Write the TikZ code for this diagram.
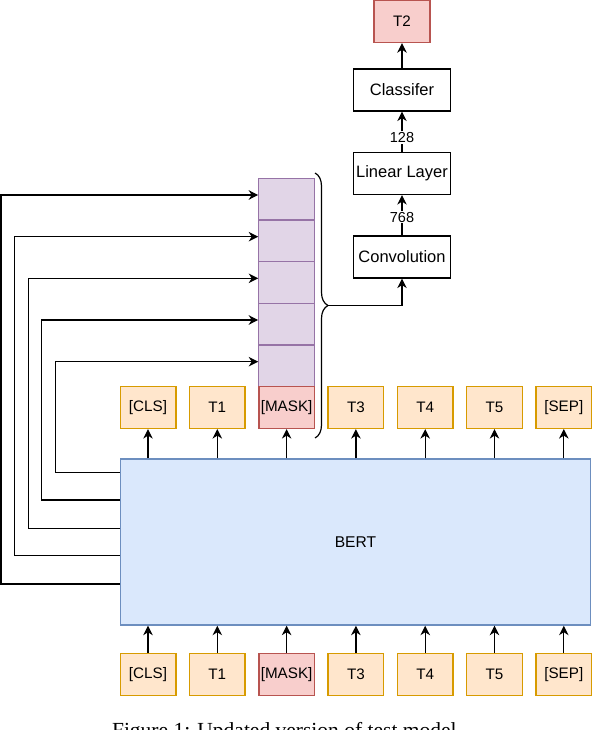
\documentclass[tikz,border=0pt]{standalone}
\usepackage{fontspec}
\setmainfont{Liberation Sans}
\newfontfamily\capfont{Liberation Serif}
\usetikzlibrary{arrows.meta,decorations.pathreplacing}
\definecolor{tokfill}{HTML}{FFE6CC}
\definecolor{tokdraw}{HTML}{D79B00}
\definecolor{maskfill}{HTML}{F8CECC}
\definecolor{maskdraw}{HTML}{B85450}
\definecolor{purfill}{HTML}{E1D5E7}
\definecolor{purdraw}{HTML}{9673A6}
\definecolor{bertfill}{HTML}{DAE8FC}
\definecolor{bertdraw}{HTML}{6C8EBF}
\begin{document}
\begin{tikzpicture}[x=1pt,y=-1pt,
  conn/.style={line width=1.2pt,-{Stealth[length=9.5pt,width=9.5pt,inset=3pt]}},
  box/.style={draw,line width=1.2pt,minimum width=96.5pt,minimum height=42pt,inner sep=0pt,font=\fontsize{16.5}{18}\selectfont},
  tok/.style={draw=tokdraw,fill=tokfill,line width=1.4pt,minimum width=55.6pt,minimum height=42pt,inner sep=0pt,font=\fontsize{15.2}{17}\selectfont},
  masktok/.style={tok,draw=maskdraw,fill=maskfill},
  cell/.style={draw=purdraw,fill=purfill,line width=1.2pt,minimum width=55.6pt,minimum height=41.6pt,inner sep=0pt},
  numlbl/.style={fill=white,inner sep=1pt,font=\fontsize{14.5}{16}\selectfont}]
\useasboundingbox (0,0) rectangle (592,730);

% top pipeline
\node[box,fill=maskfill,draw=maskdraw,minimum width=56pt,font=\fontsize{15.2}{17}\selectfont] (t2) at (402,21.6) {T2};
\node[box] (clf) at (402,90) {Classifer};
\node[box] (lin) at (402,173.5) {Linear Layer};
\node[box] (conv) at (402,257) {Convolution};
\draw[conn] (clf.north) -- (t2.south);
\draw[conn] (lin.north) -- node[numlbl,pos=0.36] {128} (clf.south);
\draw[conn] (conv.north) -- node[numlbl,pos=0.45] {768} (lin.south);

% stack
\node[cell] (c1) at (286.6,199.2) {};
\node[cell] (c2) at (286.6,240.8) {};
\node[cell] (c3) at (286.6,282.5) {};
\node[cell] (c4) at (286.6,324.1) {};
\node[cell] (c5) at (286.6,365.7) {};

% top tokens
\node[tok] (tt1) at (148,407.4) {[CLS]};
\node[tok] (tt2) at (217.3,407.4) {T1};
\node[masktok] (tt3) at (286.6,407.4) {[MASK]};
\node[tok] (tt4) at (355.9,407.4) {T3};
\node[tok] (tt5) at (425.2,407.4) {T4};
\node[tok] (tt6) at (494.5,407.4) {T5};
\node[tok] (tt7) at (563.8,407.4) {[SEP]};

% bottom tokens
\node[tok] (bt1) at (148,674.2) {[CLS]};
\node[tok] (bt2) at (217.3,674.2) {T1};
\node[masktok] (bt3) at (286.6,674.2) {[MASK]};
\node[tok] (bt4) at (355.9,674.2) {T3};
\node[tok] (bt5) at (425.2,674.2) {T4};
\node[tok] (bt6) at (494.5,674.2) {T5};
\node[tok] (bt7) at (563.8,674.2) {[SEP]};

% BERT
\node[draw=bertdraw,fill=bertfill,line width=1.4pt,minimum width=470.5pt,minimum height=166pt,inner sep=0pt,font=\fontsize{15.6}{18}\selectfont] (bert) at (355.5,542) {BERT};

\foreach \i in {1,...,7}{
  \draw[conn] (bert.north -| tt\i) -- (tt\i.south);
  \draw[conn] (bt\i.north) -- (bert.south -| bt\i);
}

% left connectors
\draw[conn] (bert.west |- 0,584) -- (1,584) -- (1,195) -- (c1.west |- 0,195);
\draw[conn] (bert.west |- 0,555.7) -- (14.3,555.7) -- (14.3,236.7) -- (c2.west |- 0,236.7);
\draw[conn] (bert.west |- 0,528.3) -- (28.3,528.3) -- (28.3,278.3) -- (c3.west |- 0,278.3);
\draw[conn] (bert.west |- 0,500) -- (41.7,500) -- (41.7,320) -- (c4.west |- 0,320);
\draw[conn] (bert.west |- 0,472.3) -- (55.7,472.3) -- (55.7,361.7) -- (c5.west |- 0,361.7);

% brace
\draw[line width=1.2pt,decorate,decoration={brace,amplitude=13pt}] (315,173) -- (315,438);
\coordinate (btip) at (328,305.5);
\draw[conn] (btip) -| (conv.south);

% caption
\node[font=\capfont\fontsize{21.5}{24}\selectfont,anchor=base,inner sep=0pt] (cap) at (287,737) {Figure 1: Updated version of test model.};
\end{tikzpicture}
\end{document}
